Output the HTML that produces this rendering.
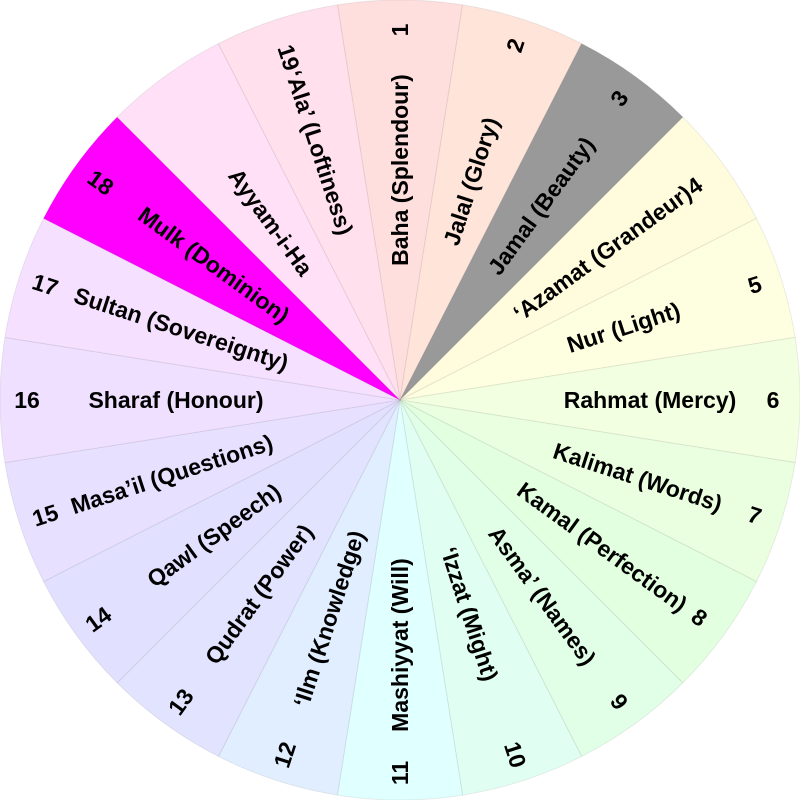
<!DOCTYPE html>
<html><head><meta charset="utf-8"><style>
html,body{margin:0;padding:0;background:#fff;}
svg{display:block;}
text{font-family:"Liberation Sans",sans-serif;font-weight:bold;font-size:23px;fill:#000;}
</style></head><body>
<svg width="800" height="800" viewBox="0 0 800 800" xmlns="http://www.w3.org/2000/svg">
<defs><path id="w" d="M400,400 L337.43,4.92 A400,400 0 0 1 462.57,4.92 Z" stroke="rgba(0,0,0,0.07)" stroke-width="1"/></defs>
<g transform="rotate(0 400 400)"><use href="#w" fill="#ffdede"/><text x="400" y="170" text-anchor="middle" dominant-baseline="central" transform="rotate(-90 400 170)">Baha (Splendour)</text><text x="400" y="30" text-anchor="middle" dominant-baseline="central" transform="rotate(-90 400 30)">1</text></g>
<g transform="rotate(18 400 400)"><use href="#w" fill="#ffe4da"/><text x="400" y="170" text-anchor="middle" dominant-baseline="central" transform="rotate(-90 400 170)">Jalal (Glory)</text><text x="400" y="27" text-anchor="middle" dominant-baseline="central" transform="rotate(-90 400 27)">2</text></g>
<g transform="rotate(36 400 400)"><use href="#w" fill="#999999"/><text x="400" y="160" text-anchor="middle" dominant-baseline="central" transform="rotate(-90 400 160)">Jamal (Beauty)</text><text x="400" y="27" text-anchor="middle" dominant-baseline="central" transform="rotate(-90 400 27)">3</text></g>
<g transform="rotate(54 400 400)"><use href="#w" fill="#fffcde"/><text x="400" y="150" text-anchor="middle" dominant-baseline="central" transform="rotate(-90 400 150)">‘Azamat (Grandeur)</text><text x="400" y="36" text-anchor="middle" dominant-baseline="central" transform="rotate(-90 400 36)">4</text></g>
<g transform="rotate(72 400 400)"><use href="#w" fill="#fefee0"/><text x="400" y="165" text-anchor="middle" dominant-baseline="central" transform="rotate(-90 400 165)">Nur (Light)</text><text x="400" y="27" text-anchor="middle" dominant-baseline="central" transform="rotate(-90 400 27)">5</text></g>
<g transform="rotate(90 400 400)"><use href="#w" fill="#f2ffe0"/><text x="400" y="150" text-anchor="middle" dominant-baseline="central" transform="rotate(-90 400 150)">Rahmat (Mercy)</text><text x="400" y="27" text-anchor="middle" dominant-baseline="central" transform="rotate(-90 400 27)">6</text></g>
<g transform="rotate(108 400 400)"><use href="#w" fill="#eaffe0"/><text x="400" y="150" text-anchor="middle" dominant-baseline="central" transform="rotate(-90 400 150)">Kalimat (Words)</text><text x="400" y="27" text-anchor="middle" dominant-baseline="central" transform="rotate(-90 400 27)">7</text></g>
<g transform="rotate(126 400 400)"><use href="#w" fill="#e2ffe0"/><text x="400" y="150" text-anchor="middle" dominant-baseline="central" transform="rotate(-90 400 150)">Kamal (Perfection)</text><text x="400" y="30" text-anchor="middle" dominant-baseline="central" transform="rotate(-90 400 30)">8</text></g>
<g transform="rotate(144 400 400)"><use href="#w" fill="#e0ffe6"/><text x="400" y="158" text-anchor="middle" dominant-baseline="central" transform="rotate(-90 400 158)">Asma’ (Names)</text><text x="400" y="27" text-anchor="middle" dominant-baseline="central" transform="rotate(-90 400 27)">9</text></g>
<g transform="rotate(162 400 400)"><use href="#w" fill="#e0fff2"/><text x="400" y="175" text-anchor="middle" dominant-baseline="central" transform="rotate(-90 400 175)">‘Izzat (Might)</text><text x="400" y="27" text-anchor="middle" dominant-baseline="central" transform="rotate(-90 400 27)">10</text></g>
<g transform="rotate(180 400 400)"><use href="#w" fill="#e0ffff"/><text x="400" y="155" text-anchor="middle" dominant-baseline="central" transform="rotate(90 400 155)">Mashiyyat (Will)</text><text x="400" y="27" text-anchor="middle" dominant-baseline="central" transform="rotate(90 400 27)">11</text></g>
<g transform="rotate(198 400 400)"><use href="#w" fill="#e0eeff"/><text x="400" y="170" text-anchor="middle" dominant-baseline="central" transform="rotate(90 400 170)">‘Ilm (Knowledge)</text><text x="400" y="27" text-anchor="middle" dominant-baseline="central" transform="rotate(90 400 27)">12</text></g>
<g transform="rotate(216 400 400)"><use href="#w" fill="#e2e4ff"/><text x="400" y="160" text-anchor="middle" dominant-baseline="central" transform="rotate(90 400 160)">Qudrat (Power)</text><text x="400" y="27" text-anchor="middle" dominant-baseline="central" transform="rotate(90 400 27)">13</text></g>
<g transform="rotate(234 400 400)"><use href="#w" fill="#e2e0ff"/><text x="400" y="170" text-anchor="middle" dominant-baseline="central" transform="rotate(90 400 170)">Qawl (Speech)</text><text x="400" y="27" text-anchor="middle" dominant-baseline="central" transform="rotate(90 400 27)">14</text></g>
<g transform="rotate(252 400 400)"><use href="#w" fill="#e8e0ff"/><text x="400" y="160" text-anchor="middle" dominant-baseline="central" transform="rotate(90 400 160)">Masa’il (Questions)</text><text x="400" y="27" text-anchor="middle" dominant-baseline="central" transform="rotate(90 400 27)">15</text></g>
<g transform="rotate(270 400 400)"><use href="#w" fill="#efe0ff"/><text x="400" y="176" text-anchor="middle" dominant-baseline="central" transform="rotate(90 400 176)">Sharaf (Honour)</text><text x="400" y="27" text-anchor="middle" dominant-baseline="central" transform="rotate(90 400 27)">16</text></g>
<g transform="rotate(288 400 400)"><use href="#w" fill="#f6e0ff"/><text x="400" y="170" text-anchor="middle" dominant-baseline="central" transform="rotate(90 400 170)">Sultan (Sovereignty)</text><text x="400" y="27" text-anchor="middle" dominant-baseline="central" transform="rotate(90 400 27)">17</text></g>
<g transform="rotate(306 400 400)"><use href="#w" fill="#ff00ff"/><text x="400" y="170" text-anchor="middle" dominant-baseline="central" transform="rotate(90 400 170)">Mulk (Dominion)</text><text x="400" y="30" text-anchor="middle" dominant-baseline="central" transform="rotate(90 400 30)">18</text></g>
<g transform="rotate(324 400 400)"><use href="#w" fill="#ffe0f6"/><text x="400" y="180" text-anchor="middle" dominant-baseline="central" transform="rotate(90 400 180)">Ayyam-i-Ha</text></g>
<g transform="rotate(342 400 400)"><use href="#w" fill="#ffe0ec"/><text x="400" y="140" text-anchor="middle" dominant-baseline="central" transform="rotate(90 400 140)">‘Ala’ (Loftiness)</text><text x="400" y="40" text-anchor="middle" dominant-baseline="central" transform="rotate(90 400 40)">19</text></g>
</svg>
</body></html>
